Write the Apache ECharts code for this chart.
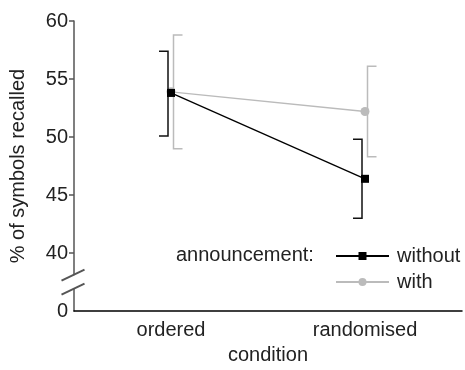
<!DOCTYPE html>
<html>
<head>
<meta charset="utf-8">
<script src="https://cdn.jsdelivr.net/npm/echarts@6/dist/echarts.min.js"></script>
<style>
html, body { margin: 0; padding: 0; background: #fff; }
#chart { width: 465px; height: 370px; }
</style>
</head>
<body>
<div id="chart"></div>
<script>
var categories = ['ordered', 'randomised'];
var withoutMean = [53.8, 46.4];
var withoutLow = [50.1, 43.0];
var withoutHigh = [57.4, 49.8];
var withMean = [53.9, 52.2];
var withLow = [49.0, 48.3];
var withHigh = [58.8, 56.1];
var yTicks = [40, 45, 50, 55, 60];
var yLabels = [35, 40, 45, 50, 55, 60]; // 35 sits below the break and is shown as 0

var FONT = '"Liberation Sans", Arial, sans-serif';
var TEXT = '#222';
var GRID_LEFT = 73;

// half-bracket error bar, dx shifts it off the point, cap points left (<0) or right (>0)
function errorBars(low, high, color, dx, cap, z) {
    return {
        type: 'custom',
        silent: true,
        z: z,
        data: categories.map(function (c, i) { return [i, low[i], high[i]]; }),
        encode: { x: 0, y: [1, 2] },
        renderItem: function (params, api) {
            var top = api.coord([api.value(0), api.value(2)]);
            var bot = api.coord([api.value(0), api.value(1)]);
            var x = top[0] + dx;
            return {
                type: 'polyline',
                shape: { points: [[x + cap, top[1]], [x, top[1]], [x, bot[1]], [x + cap, bot[1]]] },
                style: { stroke: color, lineWidth: 1.5, fill: null }
            };
        }
    };
}

var chart = echarts.init(document.getElementById('chart'), null, { renderer: 'canvas' });

chart.setOption({
    animation: false,
    textStyle: { fontFamily: FONT },
    grid: { left: GRID_LEFT, right: 3, top: 21, bottom: 57, containLabel: false },
    title: {
        text: 'announcement:',
        left: 176, top: 245, padding: 0,
        textStyle: { fontFamily: FONT, fontSize: 20, fontWeight: 'normal', color: TEXT }
    },
    legend: {
        data: ['without', 'with'],
        orient: 'vertical',
        left: 335, top: 246, padding: 0,
        itemWidth: 53, itemHeight: 10, itemGap: 6,
        textStyle: { fontFamily: FONT, fontSize: 20, color: TEXT, padding: [0, 0, 0, 3] }
    },
    xAxis: {
        type: 'category',
        data: categories,
        boundaryGap: true,
        axisLine: { lineStyle: { color: '#000', width: 1.5 } },
        axisTick: { alignWithLabel: true, inside: true, length: 4, lineStyle: { color: '#000', width: 1.5 } },
        axisLabel: { fontSize: 20, color: TEXT, margin: 9 },
        name: 'condition',
        nameLocation: 'middle',
        nameGap: 32,
        nameTextStyle: { fontSize: 20, color: TEXT }
    },
    yAxis: {
        type: 'value',
        min: 35, max: 60, interval: 5,
        splitLine: { show: false },
        axisLine: { show: true, lineStyle: { color: '#555', width: 1.5 } },
        axisTick: { show: true, customValues: yTicks, length: 5, lineStyle: { color: '#555', width: 1.5 } },
        axisLabel: {
            customValues: yLabels,
            fontSize: 20, color: TEXT, margin: 6,
            formatter: function (v) { return v === 35 ? '0' : String(v); }
        },
        name: '% of symbols recalled',
        nameLocation: 'middle',
        nameGap: 46,
        nameTextStyle: { fontSize: 20, color: TEXT }
    },
    series: [
        errorBars(withLow, withHigh, '#bbb', 2.5, 9, 1),
        {
            name: 'with', type: 'line', z: 2,
            data: withMean,
            symbol: 'circle', symbolSize: 9,
            itemStyle: { color: '#bbb' },
            lineStyle: { color: '#bbb', width: 1.3 }
        },
        errorBars(withoutLow, withoutHigh, '#111', -3, -9, 3),
        {
            name: 'without', type: 'line', z: 4,
            data: withoutMean,
            symbol: 'rect', symbolSize: 8,
            itemStyle: { color: '#000' },
            lineStyle: { color: '#000', width: 1.3 }
        }
    ]
});

// axis break marks between 0 and 40
var yUp = chart.convertToPixel({ yAxisIndex: 0 }, 38.1);
var yDn = chart.convertToPixel({ yAxisIndex: 0 }, 36.9);
function slash(y) {
    return {
        type: 'line', z: 100,
        shape: { x1: GRID_LEFT - 11.5, y1: y + 5.5, x2: GRID_LEFT + 11.5, y2: y - 5.5 },
        style: { stroke: '#555', lineWidth: 2 }
    };
}
chart.setOption({
    graphic: [
        { type: 'rect', z: 99, shape: { x: GRID_LEFT - 2, y: yUp, width: 4, height: yDn - yUp }, style: { fill: '#fff' } },
        slash(yUp),
        slash(yDn)
    ]
});
</script>
</body>
</html>
